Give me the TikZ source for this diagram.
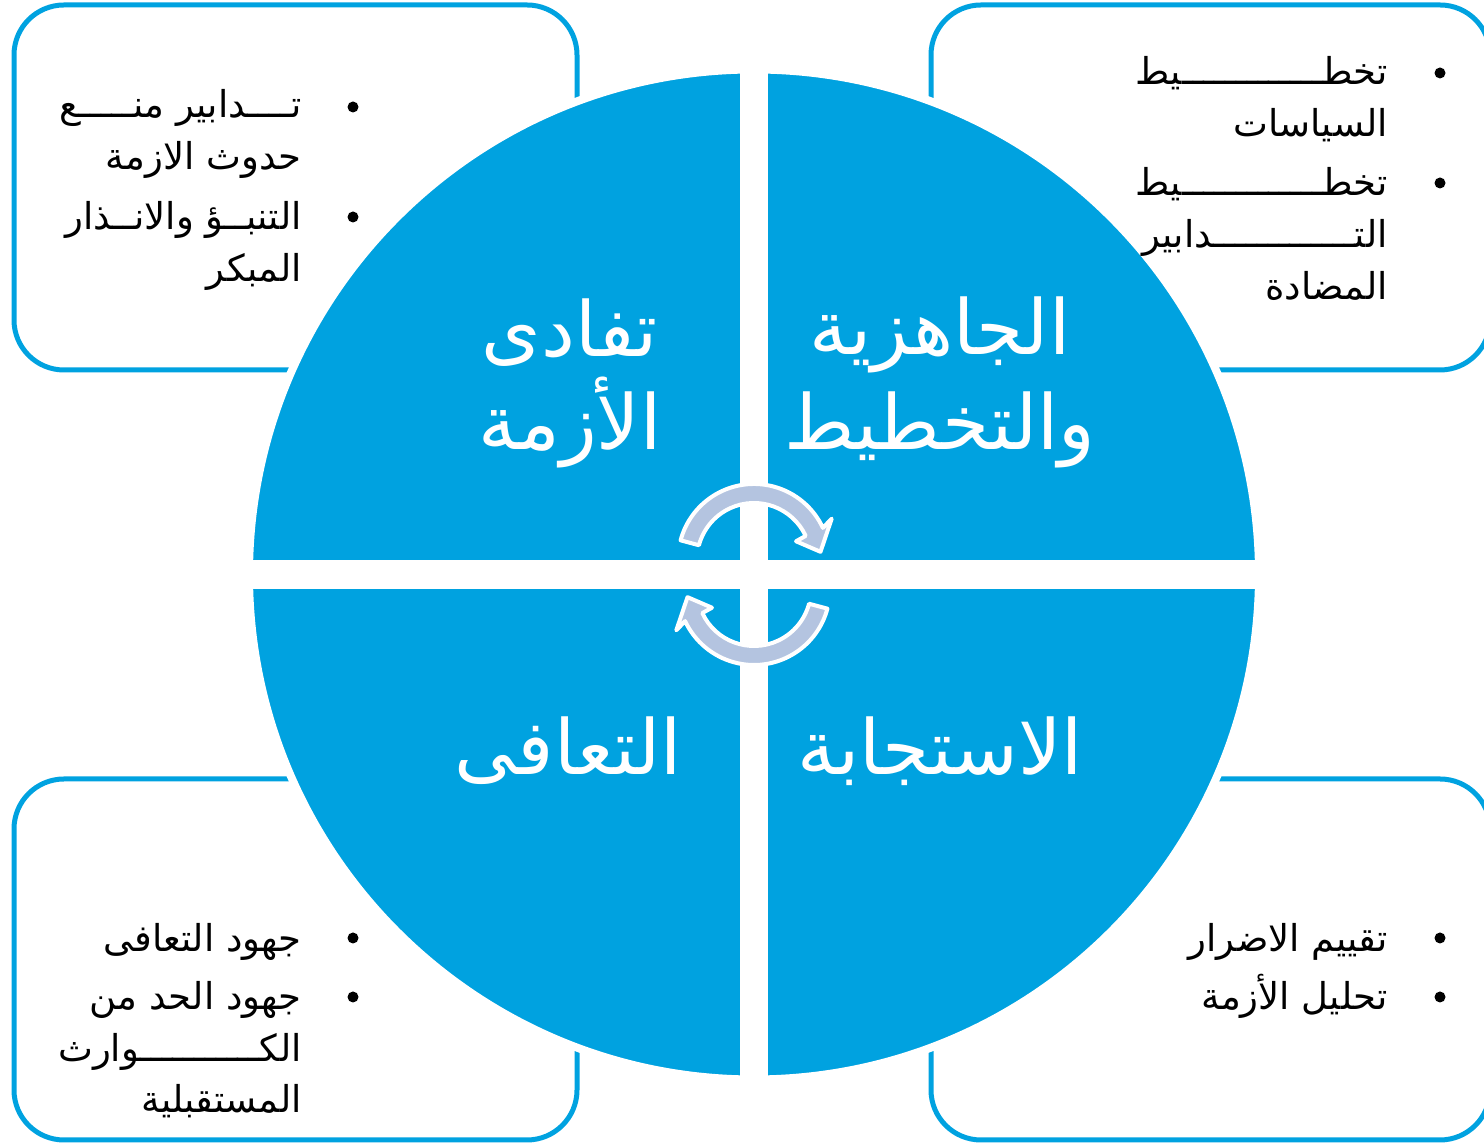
\documentclass[tikz,border=0pt]{standalone}
\usepackage{fontspec}
\usepackage{tikz}
\usetikzlibrary{calc}
\TeXXeTstate=1
\newfontfamily\arabicfont[Script=Arabic]{DejaVu Sans}
\definecolor{quarterblue}{RGB}{0,162,224}
\definecolor{arrowgray}{RGB}{180,196,224}

\begin{document}
\begin{tikzpicture}[x=0.5pt,y=0.5pt,
	box/.style={draw=quarterblue,line width=2.5pt,rounded corners=25pt},
	title/.style={text=white,font=\arabicfont\fontsize{38}{42}\selectfont,anchor=base,inner sep=0pt},
	item/.style={font=\arabicfont\fontsize{18.5}{22}\selectfont,anchor=base east,inner sep=0pt},
	dot/.style={fill=black},
	band/.style={fill=arrowgray,draw=white,line width=2pt,line join=round}]
	\useasboundingbox (0,0) rectangle (1484,1144);
	% outer boxes
	\draw[box] (14,774) rectangle (577,1139);
	\draw[box] (931,774) rectangle (1490,1139);
	\draw[box] (14,4) rectangle (577,365);
	\draw[box] (931,4) rectangle (1490,365);
	% big circle and white cross
	\filldraw[fill=quarterblue,draw=white,line width=4pt] (754,569.5) circle (505);
	\fill[white] (740,50) rectangle (768,1090);
	\fill[white] (230,555) rectangle (1280,584);
	% quarter titles
	\node[title] (avoid1) at (570,787) {\beginR تفادى\endR};
	\node[title] (avoid2) at (570,694) {\beginR الأزمة\endR};
	\node[title] (ready1) at (940,789) {\beginR الجاهزية\endR};
	\node[title] (ready2) at (940,694) {\beginR والتخطيط\endR};
	\node[title] (recover) at (568,369) {\beginR التعافى\endR};
	\node[title] (respond) at (940,369) {\beginR الاستجابة\endR};
	% cycle arrows
	\foreach \a in {0,180}{
		\begin{scope}[rotate around={\a:(754,569.5)},shift={(754,584)}]
			\filldraw[band] (165:76) arc[start angle=165,end angle=25,radius=76] -- (28:88) -- (7:67) -- (24:46) -- (25:57) arc[start angle=25,end angle=165,radius=57] -- cycle;
		\end{scope}
	}
	% top left box
	\fill[dot] (353,1037) circle (5.5);
	\fill[dot] (353,927) circle (5.5);
	\node[item] (tl1) at (302,1026) {\beginR تــــدابير منـــــع\endR};
	\node[item] (tl2) at (302,974) {\beginR حدوث الازمة\endR};
	\node[item] (tl3) at (302,914) {\beginR التنبــؤ والانــذار\endR};
	\node[item] (tl4) at (302,862) {\beginR المبكر\endR};
	% top right box
	\fill[dot] (1440,1071) circle (5.5);
	\fill[dot] (1440,961) circle (5.5);
	\node[item] (tr1) at (1388,1059) {\beginR تخطـــــــــــــيط\endR};
	\node[item] (tr2) at (1388,1007) {\beginR السياسات\endR};
	\node[item] (tr3) at (1388,948) {\beginR تخطـــــــــــــيط\endR};
	\node[item] (tr4) at (1388,896) {\beginR التـــــــــــــدابير\endR};
	\node[item] (tr5) at (1388,844) {\beginR المضادة\endR};
	% bottom left box
	\fill[dot] (353,206) circle (5.5);
	\fill[dot] (353,147) circle (5.5);
	\node[item] (bl1) at (302,192) {\beginR جهود التعافى\endR};
	\node[item] (bl2) at (302,134) {\beginR جهود الحد من\endR};
	\node[item] (bl3) at (302,82) {\beginR الكـــــــــــوارث\endR};
	\node[item] (bl4) at (302,31) {\beginR المستقبلية\endR};
	% bottom right box
	\fill[dot] (1440,206) circle (5.5);
	\fill[dot] (1440,147) circle (5.5);
	\node[item] (br1) at (1388,192) {\beginR تقييم الاضرار\endR};
	\node[item] (br2) at (1388,134) {\beginR تحليل الأزمة\endR};
\end{tikzpicture}
\end{document}
